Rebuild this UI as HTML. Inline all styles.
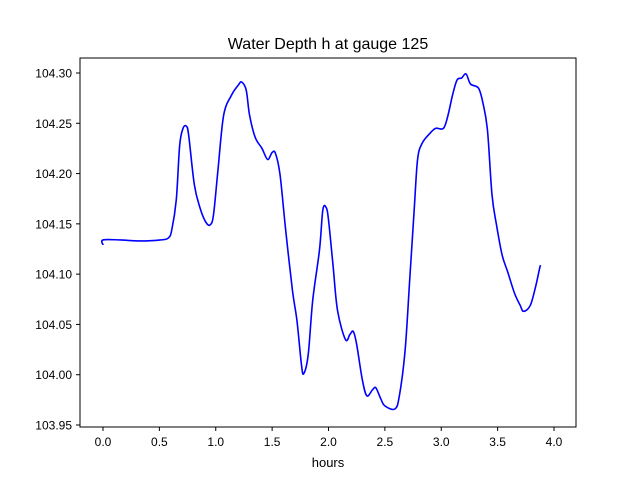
<!DOCTYPE html>
<html><head><meta charset="utf-8"><style>
body{margin:0;background:#fff}
svg{display:block;font-family:"Liberation Sans","DejaVu Sans",sans-serif}
</style></head><body>
<svg id="chart" width="640" height="480">
<rect x="0" y="0" width="640" height="480" fill="#fff"/>
<text x="328" y="49" text-anchor="middle" font-size="16">Water Depth h at gauge 125</text>
<g id="ticks"></g>
<path id="line" fill="none" stroke="#0000ff" stroke-width="1.6"/>
<rect x="80" y="58" width="496" height="369" fill="none" stroke="#000" stroke-width="1"/>
<text x="328" y="467" text-anchor="middle" font-size="13">hours</text>
</svg>
<script>
const hours=[0,0,0.15,0.33,0.51,0.58,0.61,0.65,0.68,0.71,0.74,0.76,0.81,0.86,0.91,0.95,0.98,1.02,1.07,1.14,1.20,1.23,1.27,1.30,1.35,1.41,1.46,1.50,1.53,1.57,1.62,1.68,1.72,1.76,1.78,1.82,1.86,1.92,1.95,1.98,2.00,2.04,2.08,2.15,2.19,2.22,2.25,2.30,2.34,2.39,2.42,2.46,2.50,2.59,2.63,2.68,2.72,2.76,2.79,2.83,2.90,2.95,3.02,3.06,3.10,3.14,3.18,3.22,3.26,3.33,3.37,3.41,3.45,3.49,3.54,3.59,3.65,3.70,3.73,3.79,3.84,3.88,3.90,3.94,3.96,4.00];
const depth=[104.129,104.134,104.134,104.133,104.134,104.136,104.144,104.174,104.228,104.245,104.247,104.238,104.189,104.166,104.152,104.149,104.159,104.204,104.258,104.278,104.288,104.291,104.283,104.258,104.236,104.225,104.214,104.221,104.220,104.199,104.144,104.084,104.054,104.010,104.001,104.020,104.074,104.124,104.164,104.166,104.154,104.109,104.064,104.035,104.040,104.043,104.030,103.995,103.979,103.985,103.987,103.977,103.969,103.966,103.980,104.025,104.094,104.164,104.214,104.230,104.240,104.245,104.245,104.258,104.278,104.293,104.295,104.299,104.289,104.285,104.270,104.243,104.179,104.149,104.119,104.102,104.081,104.069,104.063,104.069,104.089,104.109,104.109];
const xTicks=[0,0.5,1,1.5,2,2.5,3,3.5,4];
const xTickLabels=["0.0","0.5","1.0","1.5","2.0","2.5","3.0","3.5","4.0"];
const yTicks=[103.95,104.00,104.05,104.10,104.15,104.20,104.25,104.30];
const yTickLabels=["103.95","104.00","104.05","104.10","104.15","104.20","104.25","104.30"];
const X=v=>103+(v-0)*(554-103)/4;
const Y=v=>425-(v-103.95)*(425-73)/0.35;
const NS="http://www.w3.org/2000/svg";
const g=document.getElementById('ticks');
function mk(t,a){const e=document.createElementNS(NS,t);for(const k in a)e.setAttribute(k,a[k]);return e;}
xTicks.forEach((t,i)=>{
 const l=mk('line',{x1:X(t),x2:X(t),y1:427,y2:431,stroke:'#000'});
 
 
 g.appendChild(l);
 const tx=mk('text',{x:X(t),y:446,'text-anchor':'middle','font-size':12});
 tx.textContent=xTickLabels[i];
 
 
 g.appendChild(tx);
});
yTicks.forEach((t,i)=>{
 const l=mk('line',{x1:76,x2:80,y1:Y(t),y2:Y(t),stroke:'#000'});
 
 
 g.appendChild(l);
 const tx=mk('text',{x:72,y:Y(t)+4.5,'text-anchor':'end','font-size':12});
 tx.textContent=yTickLabels[i];
 
 
 g.appendChild(tx);
});
const pts=hours.map((h,i)=>[X(h),Y(depth[i])]);
let d='M'+pts[0][0]+','+pts[0][1];
for(let i=0;i<pts.length-1;i++){
 const p0=pts[Math.max(0,i-1)],p1=pts[i],p2=pts[i+1],p3=pts[Math.min(pts.length-1,i+2)];
 const c1=[p1[0]+(p2[0]-p0[0])/6,p1[1]+(p2[1]-p0[1])/6];
 const c2=[p2[0]-(p3[0]-p1[0])/6,p2[1]-(p3[1]-p1[1])/6];
 d+=` C${c1[0]},${c1[1]} ${c2[0]},${c2[1]} ${p2[0]},${p2[1]}`;
}
document.getElementById('line').setAttribute('d',d);
</script>
</body></html>
